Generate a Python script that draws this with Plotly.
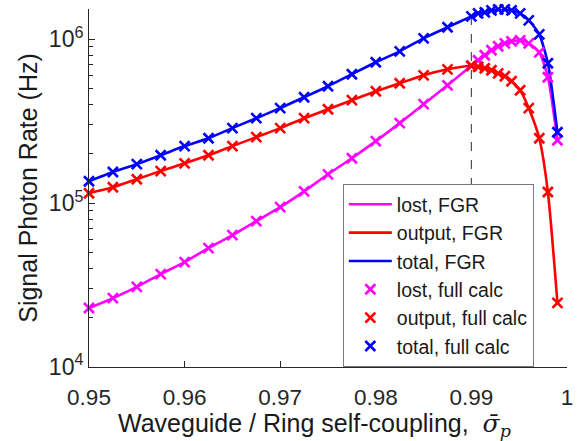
import plotly.graph_objects as go

# Waveguide / ring self-coupling values
sigma = [0.95, 0.9525, 0.955, 0.9575, 0.96, 0.9625, 0.965, 0.9675, 0.97, 0.9725,
         0.975, 0.9775, 0.98, 0.9825, 0.985, 0.9875, 0.99, 0.9907, 0.9914, 0.9921,
         0.9928, 0.9935, 0.9942, 0.9951, 0.996, 0.9971, 0.998, 0.999]

# Signal photon rates (Hz)
lost = [22.9e3, 26.3e3, 30.8e3, 36.9e3, 43.7e3, 53.2e3, 63.8e3, 77.7e3, 94.5e3, 118e3,
        150e3, 188e3, 239e3, 308e3, 402e3, 524e3, 690e3, 745e3, 799e3, 857e3,
        907e3, 945e3, 972e3, 986e3, 945e3, 833e3, 587e3, 242e3]
output = [115e3, 125e3, 140e3, 157e3, 175e3, 196e3, 223e3, 253e3, 287e3, 330e3,
          374e3, 425e3, 482e3, 539e3, 603e3, 656e3, 690e3, 680e3, 666e3, 647e3,
          620e3, 595e3, 555e3, 489e3, 380e3, 249e3, 117e3, 24.6e3]
total = [136e3, 155e3, 173e3, 196e3, 223e3, 249e3, 287e3, 330e3, 380e3, 443e3,
         517e3, 612e3, 724e3, 845e3, 1.014e6, 1.184e6, 1.381e6, 1.44e6, 1.461e6, 1.503e6,
         1.524e6, 1.524e6, 1.503e6, 1.44e6, 1.306e6, 1.073e6, 714e3, 271e3]

x_ticks = [0.95, 0.96, 0.97, 0.98, 0.99, 1.0]
x_tick_text = ["0.95", "0.96", "0.97", "0.98", "0.99", "1"]
y_ticks = [1e4, 1e5, 1e6]
y_tick_text = ["10<sup>4</sup>", "10<sup>5</sup>", "10<sup>6</sup>"]
y_minor = [m * 10 ** e for e in (4, 5) for m in range(2, 10)]

critical = 0.99

MAGENTA = "#FF00FF"
RED = "#FF0000"
BLUE = "#0000FF"
AXIS = "#262626"
TEXT = "#1a1a1a"
FONT = "Liberation Sans, Arial, sans-serif"

fig = go.Figure()

series = [("lost", lost, MAGENTA), ("output", output, RED), ("total", total, BLUE)]

for name, vals, col in series:
    fig.add_trace(go.Scatter(
        x=sigma, y=vals, mode="lines", name=f"{name}, FGR",
        line=dict(color=col, width=2.6, shape="spline", smoothing=0.6),
        cliponaxis=False,
    ))

for name, vals, col in series:
    fig.add_trace(go.Scatter(
        x=sigma, y=vals, mode="markers", name=f"{name}, full calc",
        marker=dict(symbol="x-thin", size=10, color=col,
                    line=dict(color=col, width=2.6)),
        cliponaxis=False,
    ))

# Critical coupling marker
fig.add_shape(type="line", xref="x", yref="paper", x0=critical, x1=critical,
              y0=0, y1=1, line=dict(color="#505050", width=1.2, dash="dash"),
              layer="below")

# x-axis title with the mean self-coupling symbol
fig.add_annotation(
    xref="paper", yref="paper", x=0.471, y=-0.161, xanchor="center", yanchor="middle",
    showarrow=False,
    text="Waveguide / Ring self-coupling,  "
         "<span style=\"font-family:'DejaVu Serif'\"><i>σ̄</i><sub><i>p</i></sub></span>",
    font=dict(family=FONT, size=25, color=TEXT),
)

fig.update_layout(
    width=584, height=441,
    margin=dict(l=89, r=17, t=9, b=74),
    paper_bgcolor="white", plot_bgcolor="white",
    font=dict(family=FONT, color=AXIS),
    showlegend=True,
    legend=dict(
        x=0.531, y=0.511, xanchor="left", yanchor="top",
        bgcolor="white", bordercolor="#7a7a7a", borderwidth=1,
        font=dict(family=FONT, size=19.5, color=TEXT),
        itemwidth=43, tracegroupgap=0,
    ),
    xaxis=dict(
        range=[0.95, 1.0], tickvals=x_ticks, ticktext=x_tick_text,
        ticks="inside", ticklen=6, tickcolor=AXIS, showline=True,
        linecolor=AXIS, linewidth=1, showgrid=False, zeroline=False,
        tickfont=dict(size=22.5, color=AXIS), ticklabelstandoff=10,
    ),
    yaxis=dict(
        type="log", range=[4, 6.185], tickvals=y_ticks, ticktext=y_tick_text,
        ticks="inside", ticklen=6, tickcolor=AXIS, showline=True,
        linecolor=AXIS, linewidth=1, showgrid=False, zeroline=False,
        tickfont=dict(size=23, color=AXIS),
        minor=dict(tickvals=y_minor, ticks="inside", ticklen=4, tickcolor=AXIS),
        title=dict(text="Signal Photon Rate (Hz)",
                   font=dict(size=25, color=TEXT), standoff=4),
    ),
)

fig.write_html("out.html")
